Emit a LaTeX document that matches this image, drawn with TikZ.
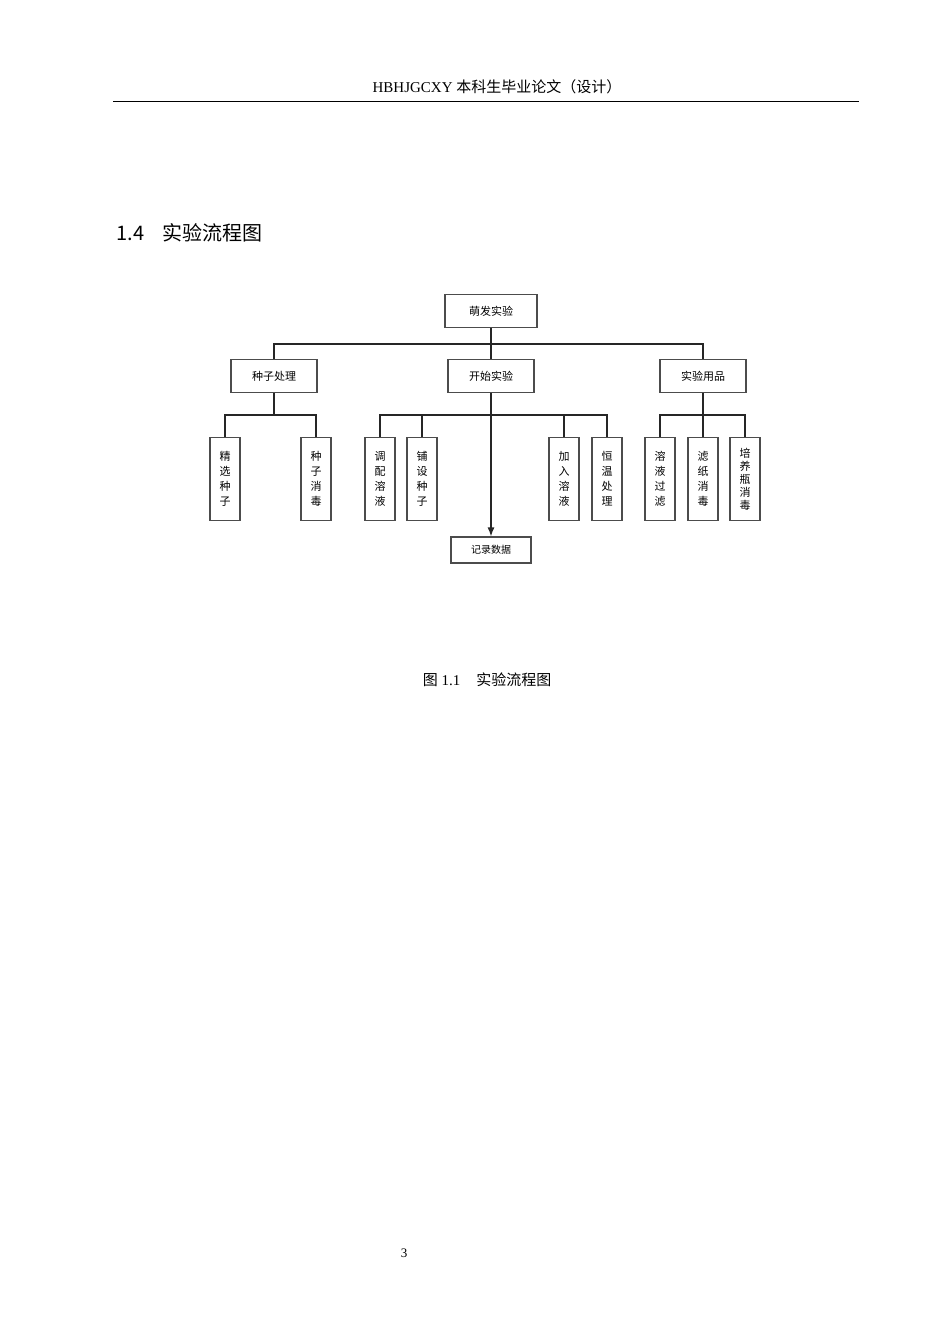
\documentclass[tikz,border=0pt]{standalone}
\usepackage{fontspec}
\setmainfont{Liberation Serif}
\newfontfamily\cjk{Noto Sans CJK SC}
\usetikzlibrary{arrows.meta}
\begin{document}
\begin{tikzpicture}[x=1pt,y=-1pt,
  box/.style={draw=black!70,line width=1.2pt,fill=white,font=\cjk\fontsize{11}{13}\selectfont,inner sep=0pt},
  hbox/.style={box,minimum width=86pt,minimum height=33pt},
  vbox/.style={box,minimum width=30pt,minimum height=83pt,align=center,font=\cjk\fontsize{11}{15}\selectfont},
  ln/.style={line width=1.3pt,black!85}]
\useasboundingbox[fill=white] (0,0) rectangle (950,1344);
\node[font=\fontsize{15}{17}\selectfont] (hdr) at (497,87) {HBHJGCXY {\cjk 本科生毕业论文（设计）}};
\draw[line width=1pt] (113,101) coordinate (l1) -- (859,101) coordinate (l2);
\node[anchor=west,font=\cjk\fontsize{20}{22}\selectfont] (sec) at (113,233) {1.4\hspace{18pt}实验流程图};
\node[hbox,minimum width=92pt] (top) at (491,311) {萌发实验};
\node[hbox] (a) at (274,376) {种子处理};
\node[hbox] (b) at (491,376) {开始实验};
\node[hbox] (c) at (703,376) {实验用品};
\coordinate (bus) at (0,344);
\draw[ln] (top.south) -- (top.south|-bus);
\draw[ln] (a.north) -- (a.north|-bus) -- (c.north|-bus) -- (c.north);
\draw[ln] (b.north) -- (b.north|-bus);
\foreach \n/\x/\t in {a1/225/精\\选\\种\\子, a2/316/种\\子\\消\\毒, b1/380/调\\配\\溶\\液, b2/422/铺\\设\\种\\子, b3/564/加\\入\\溶\\液, b4/607/恒\\温\\处\\理, c1/660/溶\\液\\过\\滤, c2/703/滤\\纸\\消\\毒}
  \node[vbox] (\n) at (\x,479) {\t};
\node[vbox,font=\cjk\fontsize{11}{13}\selectfont] (c3) at (745,479) {培\\养\\瓶\\消\\毒};
\node[hbox,minimum width=80pt,minimum height=26pt,font=\cjk\fontsize{10}{12}\selectfont] (d) at (491,550) {记录数据};
\coordinate (bus2) at (0,415);
\draw[ln] (a.south) -- (a.south|-bus2);
\draw[ln] (a1.north) -- (a1.north|-bus2) -- (a2.north|-bus2) -- (a2.north);
\draw[ln] (b1.north) -- (b1.north|-bus2) -- (b4.north|-bus2) -- (b4.north);
\draw[ln] (b2.north) -- (b2.north|-bus2);
\draw[ln] (b3.north) -- (b3.north|-bus2);
\draw[ln] (c.south) -- (c2.north);
\draw[ln] (c1.north) -- (c1.north|-bus2) -- (c3.north|-bus2) -- (c3.north);
\draw[ln,-{Latex[length=9pt,width=7pt]}] (b.south) -- (d.north);
\node[font=\fontsize{15}{17}\selectfont] (cap) at (487,680) {{\cjk 图} 1.1\hspace{16pt}{\cjk 实验流程图}};
\node[font=\fontsize{13}{15}\selectfont] (pg) at (404,1253) {3};
\end{tikzpicture}
\end{document}
